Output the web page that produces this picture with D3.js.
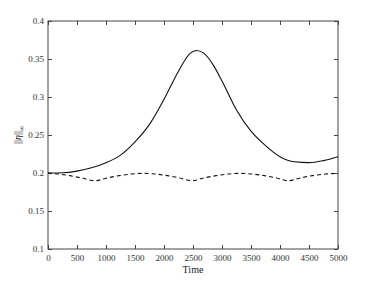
<!DOCTYPE html>
<html>
<head>
<meta charset="utf-8">
<script src="https://cdn.jsdelivr.net/npm/d3@7"></script>
<style>
body { margin: 0; background: #fff; }
</style>
</head>
<body>
<svg id="chart"></svg>
<script>
var width = 374;
var height = 281;
var margin = {left: 48, right: 36, top: 21, bottom: 32};
var serif = "'Liberation Serif', 'DejaVu Serif', serif";

// solid curve
var solidTime = [0, 250, 500, 750, 1000, 1250, 1500, 1750, 2000, 2250, 2450, 2560, 2680, 2850, 3000, 3250, 3500, 3750, 4000, 4250, 4500, 4750, 5000];
var solidValue = [0.2, 0.2003, 0.2025, 0.2068, 0.2135, 0.2235, 0.241, 0.264, 0.297, 0.334, 0.3575, 0.3612, 0.358, 0.342, 0.321, 0.283, 0.255, 0.236, 0.2214, 0.2147, 0.2136, 0.2163, 0.2214];

// dashed curve
var dashTime = [0, 200, 400, 600, 810, 1020, 1230, 1440, 1645, 1850, 2060, 2270, 2480, 2690, 2900, 3100, 3310, 3520, 3730, 3940, 4140, 4350, 4560, 4780, 5000];
var dashValue = [0.1998, 0.1985, 0.1962, 0.193, 0.1898, 0.1935, 0.1965, 0.1986, 0.1995, 0.1986, 0.1965, 0.1935, 0.1898, 0.1935, 0.1965, 0.1986, 0.1995, 0.1986, 0.1965, 0.1935, 0.1898, 0.1935, 0.1965, 0.1986, 0.1996];

var xTicks = [0, 500, 1000, 1500, 2000, 2500, 3000, 3500, 4000, 4500, 5000];
var yTicks = [0.1, 0.15, 0.2, 0.25, 0.3, 0.35, 0.4];

var svg = d3.select("#chart").attr("width", width).attr("height", height);

var x = d3.scaleLinear().domain([0, 5000]).range([margin.left, width - margin.right]);
var y = d3.scaleLinear().domain([0.1, 0.4]).range([height - margin.bottom, margin.top]);

var axisColour = "#444";

function styleAxis(g) {
    g.attr("font-family", null).style("font-family", serif);
    g.select(".domain").remove();
    g.selectAll("line").attr("stroke", axisColour);
    g.selectAll("text").style("font-size", "9px").style("font-family", serif).attr("fill", "#333");
}

// bottom
svg.append("g")
    .attr("transform", "translate(0," + y(0.1) + ")")
    .call(d3.axisBottom(x).tickValues(xTicks).tickSizeInner(-4).tickSizeOuter(0).tickPadding(6).tickFormat(d3.format("d")))
    .call(styleAxis);
// top
svg.append("g")
    .attr("transform", "translate(0," + y(0.4) + ")")
    .call(d3.axisTop(x).tickValues(xTicks).tickSizeInner(-4).tickSizeOuter(0).tickFormat(""))
    .call(styleAxis);
// left
svg.append("g")
    .attr("transform", "translate(" + x(0) + ",0)")
    .call(d3.axisLeft(y).tickValues(yTicks).tickSizeInner(-4).tickSizeOuter(0).tickPadding(4).tickFormat(function(d) { return String(+d.toFixed(2)); }))
    .call(styleAxis);
// right
svg.append("g")
    .attr("transform", "translate(" + x(5000) + ",0)")
    .call(d3.axisRight(y).tickValues(yTicks).tickSizeInner(-4).tickSizeOuter(0).tickFormat(""))
    .call(styleAxis);

// frame
svg.append("rect")
    .attr("x", x(0)).attr("y", y(0.4))
    .attr("width", x(5000) - x(0)).attr("height", y(0.1) - y(0.4))
    .attr("fill", "none").attr("stroke", axisColour).attr("stroke-width", 1);

var solidData = solidTime.map(function(t, i) { return [t, solidValue[i]]; });
var dashData = dashTime.map(function(t, i) { return [t, dashValue[i]]; });

var line = d3.line()
    .x(function(d) { return x(d[0]); })
    .y(function(d) { return y(d[1]); })
    .curve(d3.curveMonotoneX);

svg.append("path").datum(solidData)
    .attr("d", line)
    .attr("fill", "none").attr("stroke", "#111").attr("stroke-width", 1.1);

svg.append("path").datum(dashData)
    .attr("d", line)
    .attr("fill", "none").attr("stroke", "#111").attr("stroke-width", 1.1)
    .attr("stroke-dasharray", "4,3");

// axis labels
svg.append("text")
    .attr("x", (x(0) + x(5000)) / 2)
    .attr("y", 273)
    .attr("text-anchor", "middle")
    .style("font-family", serif)
    .style("font-size", "10px")
    .attr("fill", "#222")
    .text("Time");

var yl = svg.append("text")
    .attr("transform", "translate(21," + ((y(0.1) + y(0.4)) / 2) + ") rotate(-90)")
    .attr("text-anchor", "middle")
    .style("font-family", serif)
    .style("font-size", "10px")
    .attr("fill", "#222");
yl.append("tspan").text("||");
yl.append("tspan").style("font-style", "italic").text("η");
yl.append("tspan").text("||");
yl.append("tspan").attr("dy", 3).style("font-size", "7px").text("∞");
</script>
</body>
</html>
